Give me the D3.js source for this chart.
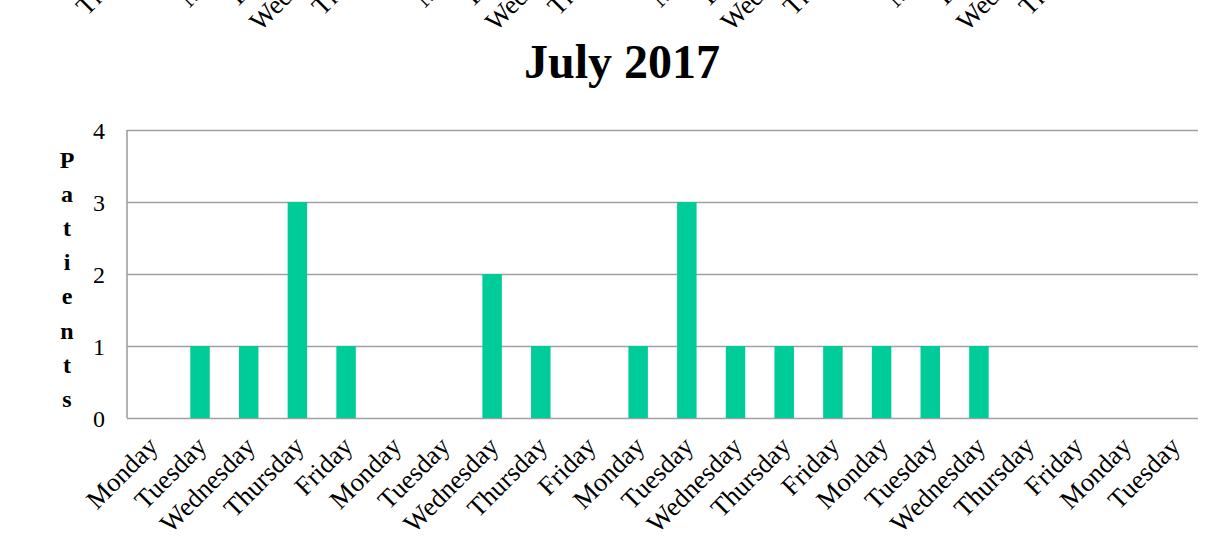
<!DOCTYPE html>
<html>
<head>
<meta charset="utf-8">
<script src="https://cdn.jsdelivr.net/npm/d3@7"></script>
<style>
  body { margin: 0; background: #fff; }
  svg { display: block; }
  text { font-family: "Liberation Serif", "Times New Roman", serif; fill: #000; }
</style>
</head>
<body>
<svg id="chart" width="1205" height="537"></svg>
<script>
// Weekday labels and patient counts for July 2017
const days = ["Monday", "Tuesday", "Wednesday", "Thursday", "Friday",
              "Monday", "Tuesday", "Wednesday", "Thursday", "Friday",
              "Monday", "Tuesday", "Wednesday", "Thursday", "Friday",
              "Monday", "Tuesday", "Wednesday", "Thursday", "Friday",
              "Monday", "Tuesday"];
const patients = [0, 1, 1, 3, 1, 0, 0, 2, 1, 0, 1, 3, 1, 1, 1, 1, 1, 1, 0, 0, 0, 0];
const yTicks = [0, 1, 2, 3, 4];
const title = "July 2017";
const yTitle = "Patients";

// Weekday labels of the June chart above, whose lower ends reach into view
const juneDays = ["Thursday", "Friday",
                  "Monday", "Tuesday", "Wednesday", "Thursday", "Friday",
                  "Monday", "Tuesday", "Wednesday", "Thursday", "Friday",
                  "Monday", "Tuesday", "Wednesday", "Thursday", "Friday",
                  "Monday", "Tuesday", "Wednesday", "Thursday", "Friday"];

const svg = d3.select("#chart");
svg.append("rect").attr("width", 1205).attr("height", 537).attr("fill", "#fff");

const plot = { left: 127, right: 1198, top: 130, bottom: 418 };
const gridColor = "#a0a0a0";
const barColor = "#00cc99";
const labelSize = "26.5px";

const x = d3.scaleBand()
  .domain(d3.range(days.length))
  .range([plot.left, plot.right])
  .paddingInner(0.6)
  .paddingOuter(0.3);

const y = d3.scaleLinear()
  .domain([0, d3.max(yTicks)])
  .range([plot.bottom, plot.top]);

// Title
svg.append("text")
  .attr("x", 622).attr("y", 78)
  .attr("text-anchor", "middle")
  .style("font-size", "48px")
  .style("font-weight", "bold")
  .text(title);

// Horizontal grid lines and value labels
const yAxis = svg.append("g")
  .attr("transform", `translate(${plot.left},0)`)
  .call(d3.axisLeft(y).tickValues(yTicks).tickSize(-(plot.right - plot.left)).tickPadding(22).tickFormat(d3.format("d")));
yAxis.select(".domain").remove();
yAxis.selectAll(".tick line").attr("stroke", gridColor).attr("stroke-width", 1.6);
yAxis.selectAll(".tick text")
  .style("font-size", "24px")
  .attr("dy", "0.34em");

// Left axis line
svg.append("line")
  .attr("x1", plot.left).attr("x2", plot.left)
  .attr("y1", y(d3.max(yTicks))).attr("y2", y(0))
  .attr("stroke", gridColor).attr("stroke-width", 1.6);

// Bars
svg.append("g").selectAll("rect")
  .data(patients)
  .join("rect")
  .attr("x", (d, i) => x(i))
  .attr("y", d => y(d))
  .attr("width", x.bandwidth())
  .attr("height", d => y(0) - y(d))
  .attr("fill", barColor);

// Rotated weekday labels
function dayLabels(g, labels) {
  g.select(".domain").remove();
  g.selectAll(".tick line").remove();
  g.selectAll(".tick text")
    .text(i => labels[i])
    .attr("x", 0).attr("y", 0).attr("dy", 0)
    .attr("text-anchor", "end")
    .attr("transform", "translate(8,30) rotate(-45)")
    .style("font-size", labelSize);
}

svg.append("g")
  .attr("transform", `translate(0,${plot.bottom})`)
  .call(d3.axisBottom(x).tickSize(0))
  .call(dayLabels, days);

// June chart's labels, mostly above the top edge
const xJune = d3.scaleBand()
  .domain(d3.range(juneDays.length))
  .range([126, 1163]);

svg.append("g")
  .attr("transform", `translate(0,${plot.bottom - 502})`)
  .call(d3.axisBottom(xJune).tickSize(0))
  .call(dayLabels, juneDays);

// Vertical axis title, one letter per line
svg.append("g").selectAll("text")
  .data(yTitle.split(""))
  .join("text")
  .attr("x", 67)
  .attr("y", (d, i) => 168 + i * 34.1)
  .attr("text-anchor", "middle")
  .style("font-size", "24px")
  .style("font-weight", "bold")
  .text(d => d);
</script>
</body>
</html>
